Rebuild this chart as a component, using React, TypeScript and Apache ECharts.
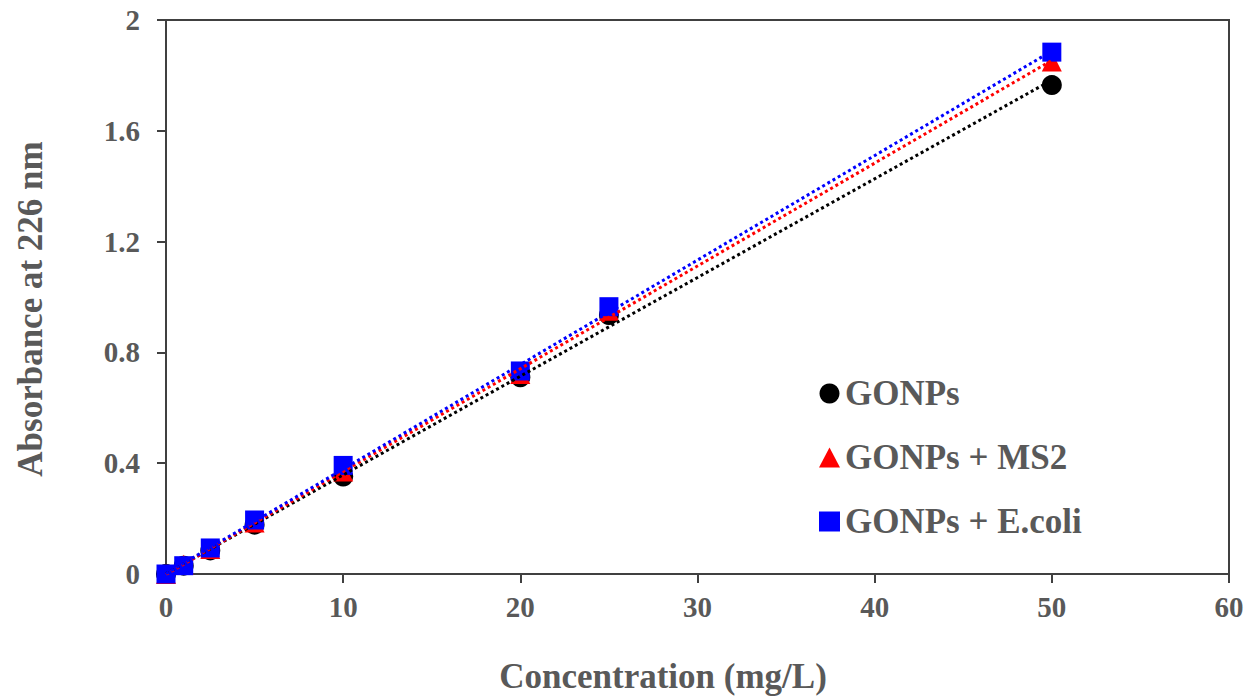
import React, { useEffect, useRef } from "react";
import * as echarts from "echarts";

// Concentration (mg/L) and absorbance at 226 nm for each sample set
const concentrations = [0, 1, 2.5, 5, 10, 20, 25, 50];
const gonps = [0, 0.03, 0.085, 0.178, 0.352, 0.71, 0.935, 1.765];
const gonpsMs2 = [0, 0.033, 0.09, 0.186, 0.37, 0.722, 0.95, 1.85];
const gonpsEcoli = [0, 0.03, 0.094, 0.195, 0.392, 0.733, 0.965, 1.884];

const xTicks = [0, 10, 20, 30, 40, 50, 60];
const yTicks = [0, 0.4, 0.8, 1.2, 1.6, 2];

const FONT = "'Liberation Serif', 'Times New Roman', serif";
const TEXT_GREY = "#595959";
const AXIS_GREY = "#404040";

// Least-squares linear trendline over the measured concentrations
function trend(ys: number[]): number[][] {
  const n = ys.length;
  const mx = concentrations.reduce((a, b) => a + b, 0) / n;
  const my = ys.reduce((a, b) => a + b, 0) / n;
  let sxy = 0;
  let sxx = 0;
  concentrations.forEach((x, i) => {
    sxy += (x - mx) * (ys[i] - my);
    sxx += (x - mx) * (x - mx);
  });
  const slope = sxy / sxx;
  const icpt = my - slope * mx;
  const x0 = concentrations[0];
  const x1 = concentrations[n - 1];
  return [
    [x0, icpt + slope * x0],
    [x1, icpt + slope * x1],
  ];
}

const pairs = (ys: number[]) => concentrations.map((x, i) => [x, ys[i]]);

export default function App() {
  const ref = useRef<HTMLDivElement>(null);

  useEffect(() => {
    if (!ref.current) return;
    const chart = echarts.init(ref.current, undefined, { renderer: "svg" });

    const sets = [
      { name: "GONPs", ys: gonps, color: "#000000", symbol: "circle", size: 20 },
      { name: "GONPs + MS2", ys: gonpsMs2, color: "#ff0000", symbol: "triangle", size: 20 },
      { name: "GONPs + E.coli", ys: gonpsEcoli, color: "#0000ff", symbol: "rect", size: 19 },
    ];

    const scatterSeries = sets.map((s, i) => ({
      name: s.name,
      type: "scatter",
      data: pairs(s.ys),
      symbol: s.symbol,
      symbolSize: s.size,
      itemStyle: { color: s.color, opacity: 1 },
      z: 2 + i,
    }));

    const lineSeries = sets.map((s) => ({
      name: s.name + " trend",
      type: "line",
      data: trend(s.ys),
      showSymbol: false,
      symbol: "none",
      lineStyle: { color: s.color, width: 3, type: [3, 3] },
      silent: true,
      z: 6,
    }));

    const titleStyle = {
      fontFamily: FONT,
      fontSize: 35,
      fontWeight: "bold",
      fill: TEXT_GREY,
    };

    chart.setOption({
      animation: false,
      backgroundColor: "#ffffff",
      grid: { left: 166, right: 21, top: 20, bottom: 122, show: true, borderColor: AXIS_GREY, borderWidth: 2 },
      legend: {
        orient: "vertical",
        left: 814,
        top: 371,
        itemGap: 29,
        itemWidth: 21,
        itemHeight: 20,
        data: sets.map((s) => ({ name: s.name, icon: s.symbol })),
        textStyle: { fontFamily: FONT, fontSize: 35, fontWeight: "bold", color: TEXT_GREY },
      },
      graphic: [
        {
          type: "text",
          x: 663,
          y: 676,
          style: { ...titleStyle, text: "Concentration (mg/L)", align: "center", verticalAlign: "middle" },
        },
        {
          type: "text",
          x: 30,
          y: 309,
          rotation: Math.PI / 2,
          style: { ...titleStyle, text: "Absorbance at 226 nm", align: "center", verticalAlign: "middle" },
        },
      ],
      xAxis: {
        type: "value",
        min: xTicks[0],
        max: xTicks[xTicks.length - 1],
        interval: 10,
        axisLine: { lineStyle: { color: AXIS_GREY, width: 2 } },
        axisTick: { show: true, inside: false, length: 9, lineStyle: { color: AXIS_GREY, width: 2 } },
        axisLabel: { fontFamily: FONT, fontSize: 29, fontWeight: "bold", color: TEXT_GREY, margin: 18 },
        splitLine: { show: false },
      },
      yAxis: {
        type: "value",
        min: yTicks[0],
        max: yTicks[yTicks.length - 1],
        interval: 0.4,
        axisLine: { show: true, lineStyle: { color: AXIS_GREY, width: 2 } },
        axisTick: { show: true, inside: false, length: 9, lineStyle: { color: AXIS_GREY, width: 2 } },
        axisLabel: {
          fontFamily: FONT,
          fontSize: 29,
          fontWeight: "bold",
          color: TEXT_GREY,
          margin: 26,
          formatter: (v: number) => String(Math.round(v * 10) / 10),
        },
        splitLine: { show: false },
      },
      series: [...scatterSeries, ...lineSeries],
    });

    return () => chart.dispose();
  }, []);

  return (
    <div
      ref={ref}
      style={{ position: "fixed", left: 0, top: 0, width: 1250, height: 696 }}
    />
  );
}
